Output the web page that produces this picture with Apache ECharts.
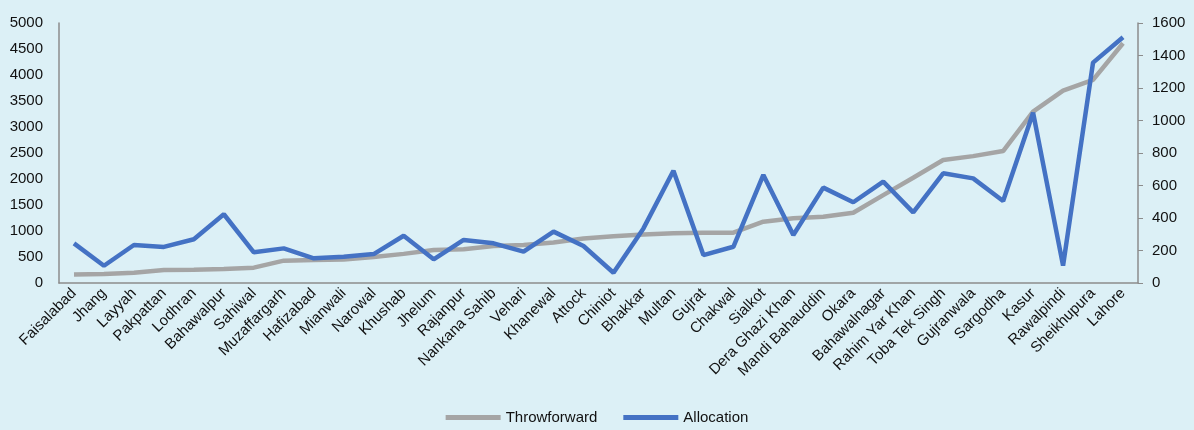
<!DOCTYPE html>
<html><head><meta charset="utf-8">
<script src="https://cdn.jsdelivr.net/npm/echarts@6/dist/echarts.min.js"></script>
<style>html,body{margin:0;padding:0;background:#dcf0f6;}#c{width:1194px;height:430px;}</style>
</head><body><div id="c"></div>
<script>
const categories = ["Faisalabad","Jhang","Layyah","Pakpattan","Lodhran","Bahawalpur","Sahiwal","Muzaffargarh","Hafizabad","Mianwali","Narowal","Khushab","Jhelum","Rajanpur","Nankana Sahib","Vehari","Khanewal","Attock","Chiniot","Bhakkar","Multan","Gujrat","Chakwal","Sialkot","Dera Ghazi Khan","Mandi Bahauddin","Okara","Bahawalnagar","Rahim Yar Khan","Toba Tek Singh","Gujranwala","Sargodha","Kasur","Rawalpindi","Sheikhupura","Lahore"];
const throwforward = [165,175,198,250,255,268,295,430,440,450,500,560,635,650,710,730,780,855,900,935,955,968,968,1179,1244,1276,1350,1690,2025,2365,2440,2538,3295,3700,3905,4610];
const allocation = [244,106,234,222,269,423,189,213,152,162,178,291,146,265,244,193,316,228,63,336,691,172,223,665,295,587,497,624,435,675,644,505,1048,107,1356,1512];
const leftTicks = {min:0,max:5000,interval:500};
const rightTicks = {min:0,max:1600,interval:200};

const chart = echarts.init(document.getElementById('c'));
const font = 'Liberation Sans, Arial, sans-serif';
const axisLine = {show:true,lineStyle:{color:'#8c8c8c',width:1.5}};
const plain = v => String(v);
chart.setOption({
  backgroundColor:'#dcf0f6',
  animation:false,
  textStyle:{fontFamily:font},
  grid:{left:59,right:56,top:23,bottom:147},
  legend:{bottom:0,left:'center',itemGap:26,itemWidth:55,itemHeight:5,icon:'rect',
    textStyle:{fontSize:15,color:'#111',fontFamily:font},
    data:['Throwforward','Allocation']},
  xAxis:{type:'category',data:categories,boundaryGap:true,axisLine:axisLine,axisTick:{show:false},
    axisLabel:{rotate:45,fontSize:15,color:'#111',margin:8,interval:0,fontFamily:font}},
  yAxis:[
    {type:'value',min:leftTicks.min,max:leftTicks.max,interval:leftTicks.interval,splitLine:{show:false},
     axisLine:axisLine,axisTick:{show:false},axisLabel:{fontSize:15,color:'#111',margin:16,fontFamily:font,formatter:plain}},
    {type:'value',min:rightTicks.min,max:rightTicks.max,interval:rightTicks.interval,splitLine:{show:false},
     axisLine:axisLine,axisTick:{show:true,length:5,lineStyle:{color:'#8c8c8c'}},axisLabel:{fontSize:15,color:'#111',margin:14,fontFamily:font,formatter:plain}}
  ],
  series:[
    {name:'Throwforward',type:'line',yAxisIndex:0,data:throwforward,showSymbol:false,symbol:'none',
     lineStyle:{color:'#a5a5a5',width:4.5},itemStyle:{color:'#a5a5a5'}},
    {name:'Allocation',type:'line',yAxisIndex:1,data:allocation,showSymbol:false,symbol:'none',
     lineStyle:{color:'#4472c4',width:4.5},itemStyle:{color:'#4472c4'}}
  ]
});
</script></body></html>
